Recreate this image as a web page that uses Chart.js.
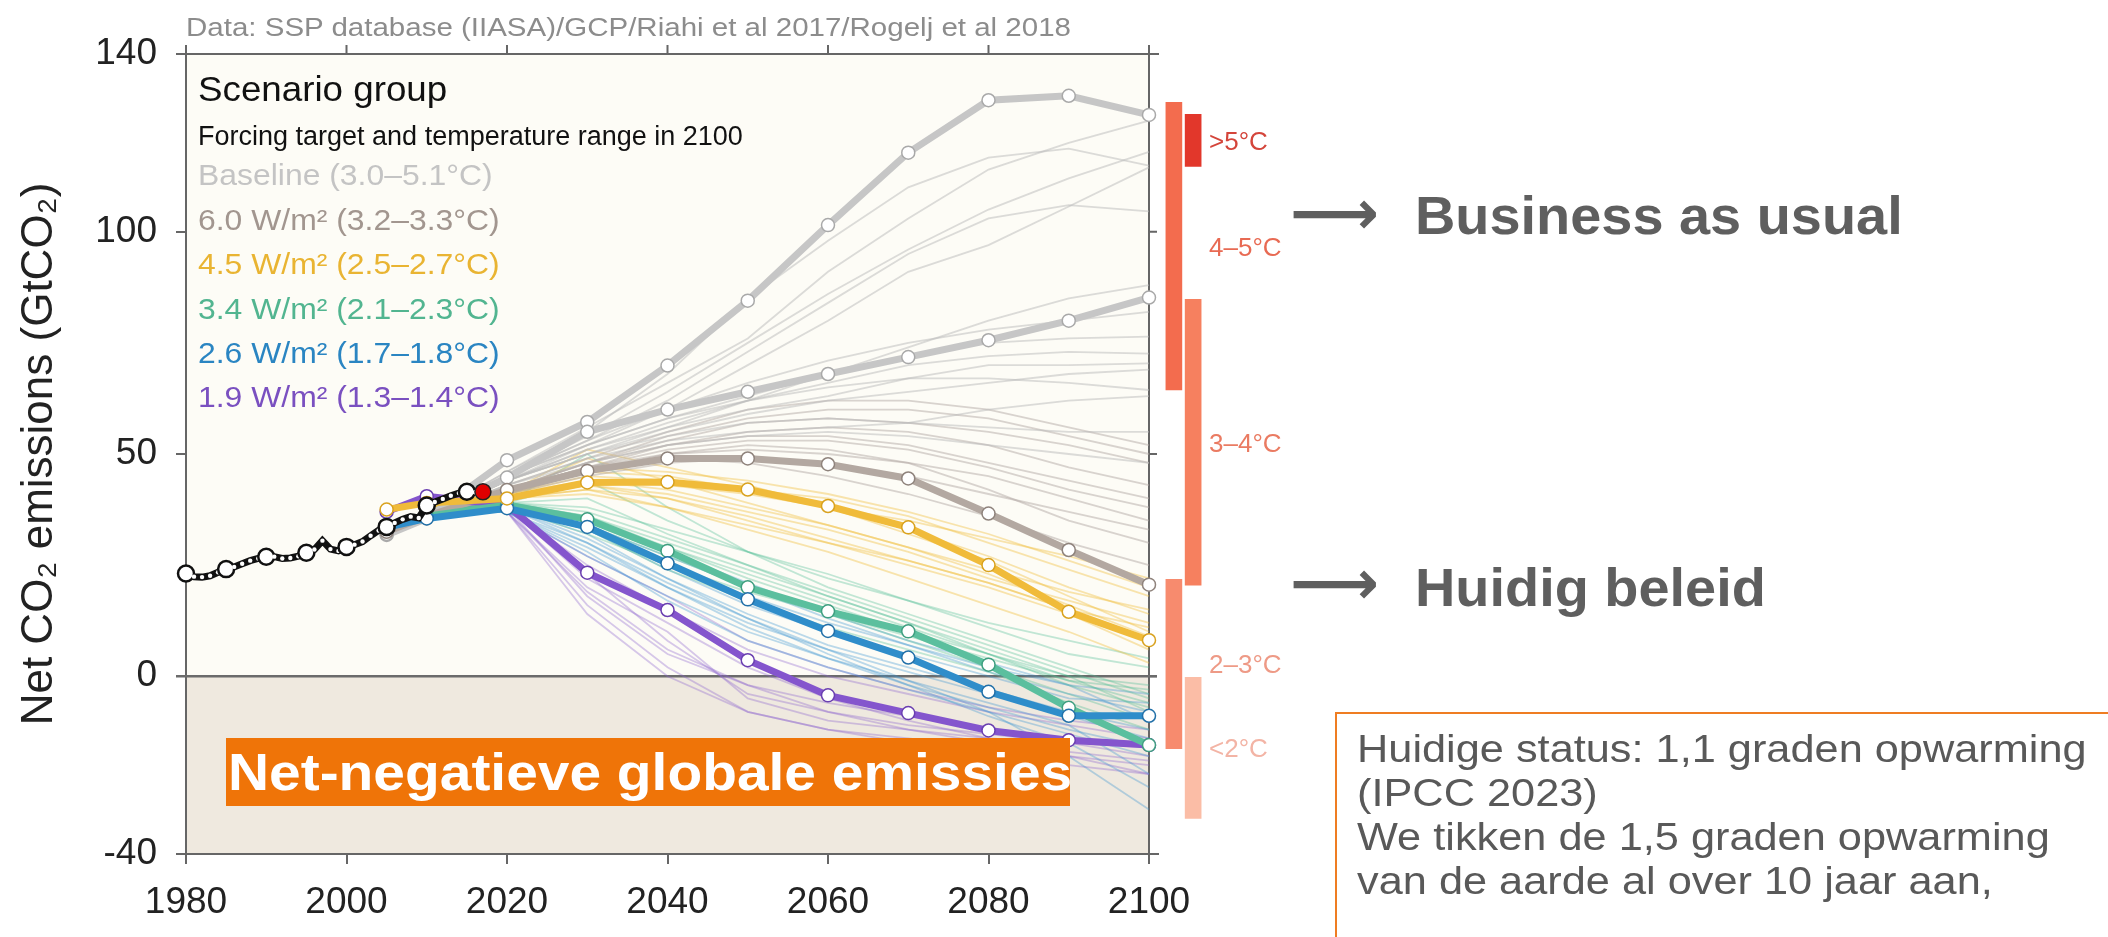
<!DOCTYPE html>
<html>
<head>
<meta charset="utf-8">
<script src="https://cdn.jsdelivr.net/npm/chart.js@4.4.1/dist/chart.umd.min.js"></script>
<style>
    body { margin: 0; background: #fff; }
    #wrap { position: relative; width: 2108px; height: 937px; overflow: hidden; font-family: "Liberation Sans", Arial, sans-serif; }
    #chart { position: absolute; left: 0; top: 0; }
    .note { position: absolute; white-space: nowrap; transform-origin: 0 50%; line-height: 1; }
    .credit { left: 186px; top: 15px; font-size: 25px; color: #8c8c8c; transform: scaleX(1.18); }
    .arrow { font-family: "DejaVu Sans", sans-serif; font-weight: bold; font-size: 62px; color: #5f5f5f; }
    .big { font-size: 54px; font-weight: bold; color: #5f5f5f; transform: scaleX(1.035); }
    .negbox { position: absolute; left: 226px; top: 738px; width: 844px; height: 68px; background: #ef7408; }
    .negbox span { position: absolute; left: 2px; top: 0; line-height: 68px; font-size: 52px; font-weight: bold; color: #fff; white-space: nowrap; transform-origin: 0 50%; transform: scaleX(1.094); }
    .status { position: absolute; left: 1335px; top: 712px; width: 800px; height: 260px; border: 2px solid #ef7d22; box-sizing: border-box; }
    .status div { position: absolute; left: 20px; top: 13px; font-size: 38px; line-height: 44px; color: #595959; white-space: nowrap; transform-origin: 0 0; transform: scaleX(1.14); }
</style>
</head>
<body>
<div id="wrap">
    <canvas id="chart" width="2108" height="937"></canvas>
    <div class="note credit">Data: SSP database (IIASA)/GCP/Riahi et al 2017/Rogelj et al 2018</div>
    <div class="note arrow" style="left:1290px; top:182px;">⟶</div>
    <div class="note big" style="left:1415px; top:188px;">Business as usual</div>
    <div class="note arrow" style="left:1290px; top:552px;">⟶</div>
    <div class="note big" style="left:1415px; top:560px;">Huidig beleid</div>
    <div class="negbox"><span>Net-negatieve globale emissies</span></div>
    <div class="status"><div>Huidige status: 1,1 graden opwarming<br>(IPCC 2023)<br>We tikken de 1,5 graden opwarming<br>van de aarde al over 10 jaar aan,</div></div>
</div>

<script>
// ==========================================
// DATA
// ==========================================
const xTicks = [1980, 2000, 2020, 2040, 2060, 2080, 2100];
const yTicks = [-40, 0, 50, 100, 140];

// historical emissions (GCP)
const histYears = [1980, 1981, 1982, 1983, 1984, 1985, 1986, 1987, 1988, 1989,
    1990, 1991, 1992, 1993, 1994, 1995, 1996, 1997, 1998, 1999,
    2000, 2001, 2002, 2003, 2004, 2005, 2006, 2007, 2008, 2009,
    2010, 2011, 2012, 2013, 2014, 2015, 2016];
const histValues = [23.1, 22.4, 22.3, 22.6, 23.4, 24.1, 24.6, 25.3, 26.0, 26.5,
    26.9, 26.9, 26.5, 26.6, 27.0, 27.8, 28.5, 30.5, 28.6, 28.2,
    29.1, 29.6, 30.3, 31.6, 32.8, 33.6, 34.5, 35.3, 35.9, 35.6,
    38.4, 39.2, 39.9, 40.6, 41.2, 41.5, 41.4];
const latestYear = [2017];
const latestValue = [41.5];

// scenario group markers
const scenarioYears = [2005, 2010, 2020, 2030, 2040, 2050, 2060, 2070, 2080, 2090, 2100];
const baselineHigh = [31.8, 35.5, 48.6, 57.2, 69.9, 84.5, 101.5, 117.8, 129.6, 130.6, 126.3];
const baselineLow = [32.0, 36.0, 44.7, 55.0, 60.0, 64.0, 68.0, 71.8, 75.6, 80.0, 85.2];
const w60 = [32.5, 36.0, 41.9, 46.2, 49.0, 49.0, 47.7, 44.5, 36.6, 28.4, 20.6];
const w45 = [37.5, 39.0, 40.0, 43.6, 43.7, 42.0, 38.3, 33.5, 25.0, 14.5, 8.1];
const w34 = [34.0, 36.0, 38.5, 35.3, 28.2, 20.0, 14.6, 10.1, 2.6, -7.1, -15.5];
const w26 = [33.5, 35.5, 37.8, 33.6, 25.4, 17.3, 10.2, 4.2, -3.5, -8.9, -8.9];
const w19 = [37.0, 40.5, 38.5, 23.3, 14.9, 3.6, -4.3, -8.3, -12.2, -14.4, -15.5];

// individual scenarios (thin lines)
const thinYears = [2010, 2020, 2030, 2040, 2050, 2060, 2070, 2080, 2090, 2100];
const thinBaseline = [
    [36, 46, 55, 68, 85, 98, 110, 116.7, 118.7, 114.9],
    [36, 46, 56, 66, 76, 91, 103, 114, 120, 125],
    [36, 45, 53, 62, 73, 84, 95, 103, 106, 104.6],
    [36, 45, 52, 60, 70, 80, 91, 97, 105.7, 114.5],
    [36, 45, 54, 64, 75, 86, 96, 105, 112, 118],
    [36, 44, 52, 58, 63, 68, 72, 75, 76, 76.4],
    [36, 44, 50, 56, 62, 66, 70, 72, 73, 72.6],
    [36, 44, 51, 56, 60, 63, 67, 70, 70, 70.4],
    [36, 45, 52, 58, 62, 65, 67, 67, 66, 64.4],
    [36, 44, 51, 57, 62, 68, 74, 80, 85, 88],
    [36, 45, 53, 60, 66, 71, 75, 78, 80, 82],
    [36, 44, 50, 55, 59, 62, 64, 66, 68, 69],
    [36, 44, 50, 54, 57, 58, 57, 56, 55, 55],
    [36, 43, 49, 53, 55, 56, 57, 60, 62, 63],
    [36, 43, 48, 52, 54, 55, 54, 52, 50, 48]
];
const thin60 = [
    [36, 42, 47, 52, 54, 54, 52, 48, 44, 40],
    [36, 42, 48, 53, 57, 58, 57, 55, 52, 48],
    [36, 41, 46, 50, 52, 51, 48, 42, 35, 30],
    [36, 42, 47, 50, 51, 50, 48, 45, 40, 35],
    [36, 43, 49, 55, 60, 62, 62, 60, 56, 52],
    [36, 42, 47, 49, 48, 45, 41, 36, 30, 25],
    [36, 42, 48, 54, 58, 60, 60, 58, 54, 50],
    [36, 42, 47, 51, 53, 53, 51, 47, 42, 38],
    [36, 41, 45, 48, 49, 48, 45, 41, 37, 33],
    [36, 42, 48, 52, 55, 56, 55, 52, 47, 43]
];
const thin45 = [
    [38, 41, 51, 47, 43, 38, 33, 27, 20, 14],
    [38, 41, 46, 45, 42, 38, 32, 26, 18, 10],
    [38, 40, 44, 42, 38, 34, 29, 23, 16, 9],
    [38, 40, 43, 40, 35, 30, 25, 20, 14, 6],
    [38, 41, 45, 44, 42, 40, 36, 30, 24, 18],
    [38, 40, 42, 38, 33, 28, 22, 16, 10, 3],
    [38, 41, 44, 43, 41, 38, 35, 31, 27, 22],
    [38, 40, 42, 40, 36, 31, 26, 21, 15, 11],
    [38, 41, 47, 46, 44, 41, 37, 32, 26, 20],
    [38, 40, 43, 41, 37, 33, 28, 22, 17, 12],
    [38, 41, 49, 44, 39, 34, 29, 24, 19, 15],
    [38, 40, 41, 38, 34, 30, 26, 21, 15, 8]
];
const thin34 = [
    [37, 39, 50, 38, 28, 20, 14, 8, 2, -4],
    [37, 39, 37, 31, 25, 19, 13, 7, 1, -5],
    [37, 39, 36, 29, 22, 16, 10, 5, 0, -2],
    [37, 38, 34, 27, 20, 14, 8, 2, -4, -10],
    [37, 39, 38, 33, 28, 23, 17, 11, 5, 2],
    [37, 38, 33, 24, 17, 11, 6, 1, -6, -12],
    [37, 39, 36, 30, 24, 18, 12, 5, -2, -7],
    [37, 39, 44, 35, 28, 22, 17, 12, 8, 4],
    [37, 38, 35, 29, 23, 17, 11, 5, -1, -6],
    [37, 39, 40, 32, 25, 18, 12, 6, 0, -8],
    [37, 38, 32, 25, 19, 14, 9, 4, -1, -3]
];
const thin26 = [
    [37, 38, 32, 22, 14, 7, 2, -3, -8, -12],
    [37, 38, 30, 20, 12, 6, 1, -4, -9, -14],
    [37, 38, 34, 27, 20, 13, 7, 1, -4, -8],
    [37, 37, 28, 17, 8, 2, -3, -8, -13, -18],
    [37, 38, 33, 24, 16, 10, 5, 0, -5, -6],
    [37, 37, 29, 20, 11, 4, -2, -7, -12, -16],
    [37, 38, 31, 22, 13, 6, -1, -8, -18, -30],
    [37, 38, 33, 25, 18, 12, 7, 2, -2, -4],
    [37, 37, 27, 18, 10, 4, -1, -6, -11, -22],
    [37, 38, 35, 28, 21, 14, 8, 3, -2, -10],
    [37, 37, 30, 21, 13, 5, -2, -9, -15, -25]
];
const thin19 = [
    [39, 38, 18, 5, -2, -8, -12, -15, -17, -19],
    [39, 38, 25, 15, 6, 0, -4, -8, -11, -14],
    [39, 37, 20, 10, -5, -10, -12, -14, -15, -16],
    [39, 38, 22, 12, 2, -5, -10, -14, -18, -22],
    [39, 37, 27, 18, 8, 2, -3, -7, -10, -12],
    [39, 37, 16, 2, -8, -12, -15, -18, -20, -22],
    [39, 37, 14, 0, -8, -12, -14, -16, -18, -20],
    [39, 38, 23, 8, -4, -8, -11, -13, -15, -18],
    [39, 37, 19, 6, -2, -6, -9, -12, -14, -16]
];

// 2100 warming ranges (right hand bars)
const tempLabels = ['>5°C', '4–5°C', '3–4°C', '2–3°C', '<2°C'];
const tempLow = [114.7, 64.4, 20.5, -16.3, -32];
const tempHigh = [126.4, 129.1, 84.8, 21.8, 0];
const tempColumn = [2, 1, 2, 1, 2];

const legendTitle = 'Scenario group';
const legendSub = 'Forcing target and temperature range in 2100';
const scenarioNames = ['Baseline (3.0–5.1°C)', '6.0 W/m² (3.2–3.3°C)', '4.5 W/m² (2.5–2.7°C)',
    '3.4 W/m² (2.1–2.3°C)', '2.6 W/m² (1.7–1.8°C)', '1.9 W/m² (1.3–1.4°C)'];

// ==========================================
// STYLES
// ==========================================
const FONT = '"Liberation Sans", Arial, sans-serif';
const legendColors = ['#c4c4c4', '#a2968f', '#e9b432', '#52b590', '#2a85c2', '#7a50c0'];
const tempColors = ['#e2372b', '#f36c4e', '#f6805f', '#f78b6e', '#fbbda6'];
const tempTextColors = ['#d4453b', '#e86a53', '#ea7b62', '#ee9a86', '#f3b4a5'];
const colX = { 1: 2103.1, 2: 2105.5 };

const toXY = (xs, ys) => xs.map((x, i) => ({ x, y: ys[i] }));

function thickLine(values, color, edge, order) {
    return {
        data: toXY(scenarioYears, values), borderColor: color, borderWidth: 7,
        pointRadius: 6.5, pointBackgroundColor: '#fff', pointBorderColor: edge, pointBorderWidth: 1.5,
        order, clip: false
    };
}
function thinLines(list, color) {
    return list.map(v => ({ data: toXY(thinYears, v), borderColor: color, borderWidth: 1.8, pointRadius: 0, order: 20, clip: false }));
}

const datasets = [
    {
        type: 'bar', data: tempLow.map((lo, i) => ({ x: colX[tempColumn[i]], y: [lo, tempHigh[i]] })),
        backgroundColor: tempColors, barThickness: 16, grouped: false, order: 30, clip: false
    },
    ...thinLines(thinBaseline, 'rgba(185,185,185,0.5)'),
    ...thinLines(thin60, 'rgba(180,170,165,0.5)'),
    ...thinLines(thin45, 'rgba(240,190,60,0.4)'),
    ...thinLines(thin34, 'rgba(80,190,150,0.35)'),
    ...thinLines(thin26, 'rgba(60,150,210,0.35)'),
    ...thinLines(thin19, 'rgba(140,100,205,0.35)'),
    thickLine(baselineHigh, '#c6c6c6', '#a9a9a9', 16),
    thickLine(baselineLow, '#c6c6c6', '#a9a9a9', 15),
    thickLine(w60, '#b3a8a1', '#8f837c', 14),
    thickLine(w19, '#8455cd', '#6a3fb0', 13),
    thickLine(w34, '#5bbf9e', '#3f9f80', 12),
    thickLine(w26, '#2f8dca', '#2270a8', 11),
    thickLine(w45, '#f0bb3a', '#d9a21f', 10),
    {
        data: toXY(histYears, histValues), borderColor: '#111', borderWidth: 7,
        pointRadius: c => histYears[c.dataIndex] % 5 === 0 ? 8 : 2.2,
        pointBackgroundColor: '#fff',
        pointBorderColor: '#111',
        pointBorderWidth: c => histYears[c.dataIndex] % 5 === 0 ? 2.5 : 0,
        order: 1, clip: false
    },
    {
        data: toXY(latestYear, latestValue), showLine: false,
        pointRadius: 8, pointBackgroundColor: '#e00000', pointBorderColor: '#222', pointBorderWidth: 1.5,
        order: 0, clip: false
    }
];

// ==========================================
// PLUGINS: background, frame, legend
// ==========================================
function drawText(ctx, text, x, yc, size, color, sx, weight) {
    ctx.save();
    ctx.font = (weight || 'normal') + ' ' + size + 'px ' + FONT;
    ctx.fillStyle = color;
    ctx.textBaseline = 'alphabetic';
    ctx.translate(x, yc + size * 0.358);
    ctx.scale(sx || 1, 1);
    ctx.fillText(text, 0, 0);
    ctx.restore();
}

const framePlugin = {
    id: 'frame',
    beforeDraw(chart) {
        const { ctx, chartArea: a, scales: { y } } = chart;
        const z = y.getPixelForValue(0);
        ctx.save();
        ctx.fillStyle = '#fdfcf6';
        ctx.fillRect(a.left, a.top, a.right - a.left, z - a.top);
        ctx.fillStyle = '#efe9df';
        ctx.fillRect(a.left, z, a.right - a.left, a.bottom - z);
        ctx.restore();
    },
    beforeDatasetsDraw(chart) {
        const { ctx, chartArea: a, scales: { x, y } } = chart;
        ctx.save();
        ctx.strokeStyle = '#666';
        ctx.lineWidth = 2;
        ctx.beginPath();
        ctx.moveTo(a.left - 10, a.top); ctx.lineTo(a.right + 10, a.top);
        xTicks.forEach(v => { const px = x.getPixelForValue(v); ctx.moveTo(px, a.top); ctx.lineTo(px, a.top - 9); });
        ctx.moveTo(a.right, a.top); ctx.lineTo(a.right, a.bottom);
        yTicks.forEach(v => { const py = y.getPixelForValue(v); ctx.moveTo(a.right, py); ctx.lineTo(a.right + 8, py); });
        ctx.moveTo(a.left - 10, a.bottom); ctx.lineTo(a.right + 10, a.bottom);
        ctx.stroke();
        const z = y.getPixelForValue(0);
        ctx.strokeStyle = '#6b6b6b';
        ctx.lineWidth = 2.5;
        ctx.beginPath();
        ctx.moveTo(a.left - 10, z); ctx.lineTo(a.right + 8, z);
        ctx.stroke();
        ctx.restore();
    },
    afterDraw(chart) {
        const { ctx, scales: { y } } = chart;
        drawText(ctx, legendTitle, 198, 88, 35, '#111', 1.05);
        drawText(ctx, legendSub, 198, 135, 27, '#111', 1.0);
        scenarioNames.forEach((t, i) => drawText(ctx, t, 198, 175 + i * 44.4, 29, legendColors[i], 1.1));
        tempLabels.forEach((t, i) => {
            const mid = y.getPixelForValue((tempLow[i] + tempHigh[i]) / 2);
            drawText(ctx, t, 1209, mid, 26, tempTextColors[i], 1.0);
        });
    }
};

// ==========================================
// CHART
// ==========================================
Chart.defaults.font.family = FONT;

new Chart(document.getElementById('chart'), {
    type: 'line',
    data: { datasets },
    options: {
        responsive: false,
        animation: false,
        layout: { padding: { top: 54, right: 959, left: 0, bottom: 0 } },
        elements: { line: { tension: 0 } },
        plugins: { legend: { display: false }, tooltip: { enabled: false } },
        scales: {
            x: {
                type: 'linear', min: 1980, max: 2100, offset: false,
                afterBuildTicks: s => { s.ticks = xTicks.map(v => ({ value: v })); },
                afterFit: s => { s.height = 83; },
                ticks: { font: { size: 37 }, color: '#222', padding: 17, maxRotation: 0, autoSkip: false, callback: v => String(v) },
                grid: { drawOnChartArea: false, drawTicks: true, tickLength: 10, color: '#666', lineWidth: 2, offset: false },
                border: { display: true, color: '#666', width: 2 }
            },
            y: {
                type: 'linear', min: -40, max: 140,
                afterBuildTicks: s => { s.ticks = yTicks.map(v => ({ value: v })); },
                afterFit: s => { s.width = 186; },
                ticks: { font: { size: 37 }, color: '#222', padding: 19, autoSkip: false, callback: v => String(v) },
                grid: { drawOnChartArea: false, drawTicks: true, tickLength: 10, color: '#666', lineWidth: 2 },
                border: { display: true, color: '#666', width: 2 },
                title: { display: true, text: 'Net CO₂ emissions (GtCO₂)', font: { size: 44 }, color: '#222', padding: { top: 13, bottom: 0 } }
            }
        }
    },
    plugins: [framePlugin]
});
</script>
</body>
</html>
